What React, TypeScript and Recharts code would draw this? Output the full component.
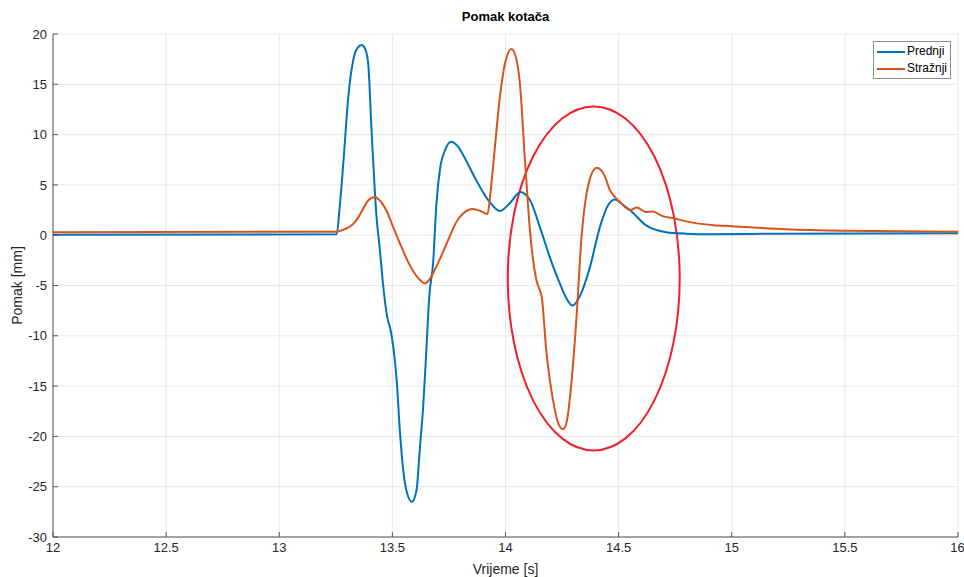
import React from 'react'
import {
  LineChart, Line, XAxis, YAxis, CartesianGrid, ReferenceArea, Label,
} from 'recharts'

// Prednji (front wheel) displacement [mm] vs time [s]
const predT = [
  12, 13.254, 13.268, 13.283, 13.305, 13.327, 13.345, 13.364, 13.38, 13.393, 13.408, 13.43,
  13.445, 13.457, 13.477, 13.492, 13.504, 13.519, 13.533, 13.548, 13.57, 13.586, 13.607,
  13.622, 13.636, 13.651, 13.663, 13.68, 13.695, 13.71, 13.732, 13.76, 13.79, 13.81, 13.84,
  13.87, 13.9, 13.93, 13.975, 14.02, 14.065, 14.108, 14.152, 14.196, 14.24, 14.27, 14.296,
  14.33, 14.373, 14.417, 14.454, 14.483, 14.52, 14.55, 14.62, 14.71, 14.8, 14.9, 15.2, 16,
]
const predV = [
  0.05, 0.1, 3.0, 7.1, 13.7, 17.4, 18.6, 18.9, 18.5, 17.1, 10.4, 1.8,
  -1.5, -4.5, -8.1, -9.4, -11.1, -14.4, -19.4, -23.4, -26.0, -26.5, -25.3,
  -21.0, -17.1, -11.1, -6.1, -2.8, 3.2, 6.5, 8.4, 9.3, 8.8, 8.1, 6.8,
  5.5, 4.3, 3.3, 2.4, 3.2, 4.3, 3.5, 0.8, -2.2, -4.8, -6.3, -7.0,
  -6.0, -3.2, 0.8, 3.0, 3.55, 3.0, 2.5, 1.0, 0.3, 0.15, 0.1, 0.15, 0.2,
]

// Stražnji (rear wheel)
const strT = [
  12, 13.25, 13.29, 13.326, 13.35, 13.37, 13.395, 13.423, 13.45, 13.475, 13.5, 13.533,
  13.56, 13.59, 13.62, 13.644, 13.67, 13.695, 13.725, 13.754, 13.78, 13.81, 13.856, 13.89,
  13.92, 13.935, 13.95, 13.975, 14.0, 14.027, 14.05, 14.064, 14.086, 14.108, 14.137, 14.152,
  14.16, 14.18, 14.21, 14.235, 14.255, 14.27, 14.29, 14.314, 14.336, 14.358, 14.373, 14.403,
  14.425, 14.44, 14.461, 14.483, 14.506, 14.55, 14.58, 14.62, 14.65, 14.695, 14.74, 14.785,
  14.84, 14.92, 15.0, 15.24, 15.5, 16,
]
const strV = [
  0.3, 0.35, 0.6, 1.1, 1.8, 2.6, 3.5, 3.8, 3.3, 2.4, 1.0, -0.8,
  -2.2, -3.5, -4.4, -4.8, -4.2, -3.1, -1.6, -0.1, 1.2, 2.1, 2.6, 2.4,
  2.1, 4.5, 8.0, 13.7, 17.3, 18.5, 17.3, 15.0, 7.5, 0.5, -4.5, -5.5,
  -6.1, -11.4, -16.4, -18.8, -19.3, -18.6, -15.0, -8.1, -0.2, 4.1, 5.6, 6.7,
  6.4, 5.8, 4.5, 3.8, 3.3, 2.5, 2.75, 2.3, 2.35, 1.9, 1.7, 1.45,
  1.2, 1.0, 0.9, 0.6, 0.45, 0.35,
]

const xTicks = [12, 12.5, 13, 13.5, 14, 14.5, 15, 15.5, 16]
const yTicks = [-30, -25, -20, -15, -10, -5, 0, 5, 10, 15, 20]

// highlighted region (red ellipse), in data units
const markX = [14.01, 14.77]
const markY = [-21.4, 12.8]

const FONT = '"Liberation Sans", Arial, sans-serif'
const BLUE = '#0072BD'
const ORANGE = '#D95319'

const predData = predT.map((t, i) => ({ t, v: predV[i] }))
const strData = strT.map((t, i) => ({ t, v: strV[i] }))

const legendItems = [
  { name: 'Prednji', color: BLUE },
  { name: 'Stražnji', color: ORANGE },
]

function LegendBox() {
  return (
    <div
      style={{
        position: 'absolute', left: 873, top: 41,
        border: '1px solid #8c8c8c', background: '#fff', padding: '1px 3px 1px 3px',
        fontFamily: FONT, fontSize: 12, color: '#000', lineHeight: '17px',
      }}
    >
      {legendItems.map((it) => (
        <div key={it.name} style={{ display: 'flex', alignItems: 'center' }}>
          <span style={{ display: 'inline-block', width: 28, height: 2, background: it.color, marginRight: 2 }} />
          <span>{it.name}</span>
        </div>
      ))}
    </div>
  )
}

const Ellipse = (props: any) => {
  const { x, y, width, height } = props
  return (
    <ellipse
      cx={x + width / 2}
      cy={y + height / 2}
      rx={width / 2}
      ry={height / 2}
      fill="none"
      stroke="#f0202a"
      strokeWidth={2}
    />
  )
}

export default function App() {
  return (
    <div style={{ position: 'absolute', left: 0, top: 0, width: 964, height: 577, background: '#fff' }}>
      <div
        style={{
          position: 'absolute', top: 9, left: 53, width: 905, textAlign: 'center',
          fontFamily: FONT, fontWeight: 'bold', fontSize: 13, color: '#000',
        }}
      >
        Pomak kotača
      </div>
      <LineChart width={964} height={577} margin={{ top: 34, right: 6, bottom: 0, left: 0 }}>
        <CartesianGrid stroke="#e8e8e8" strokeWidth={1} />
        <XAxis
          type="number"
          dataKey="t"
          domain={[12, 16]}
          ticks={xTicks}
          allowDataOverflow
          height={40}
          tickSize={-5}
          tickMargin={11}
          stroke="#555"
          tick={{ fill: '#262626', fontSize: 13, fontFamily: FONT }}
        >
          <Label value="Vrijeme [s]" position="insideBottom" offset={3} style={{ fill: '#262626', fontSize: 14, fontFamily: FONT }} />
        </XAxis>
        <YAxis
          type="number"
          domain={[-30, 20]}
          ticks={yTicks}
          allowDataOverflow
          width={53}
          tickSize={-5}
          tickMargin={11}
          stroke="#555"
          tick={{ fill: '#262626', fontSize: 13, fontFamily: FONT }}
        >
          <Label value="Pomak [mm]" angle={-90} position="insideLeft" offset={17} style={{ fill: '#262626', fontSize: 14, fontFamily: FONT, textAnchor: 'middle' }} />
        </YAxis>
        <Line data={predData} dataKey="v" name="Prednji" type="monotone" stroke={BLUE} strokeWidth={2} dot={false} isAnimationActive={false} />
        <Line data={strData} dataKey="v" name="Stražnji" type="monotone" stroke={ORANGE} strokeWidth={2} dot={false} isAnimationActive={false} />
        <ReferenceArea x1={markX[0]} x2={markX[1]} y1={markY[0]} y2={markY[1]} ifOverflow="visible" shape={Ellipse} />
      </LineChart>
      <LegendBox />
    </div>
  )
}
